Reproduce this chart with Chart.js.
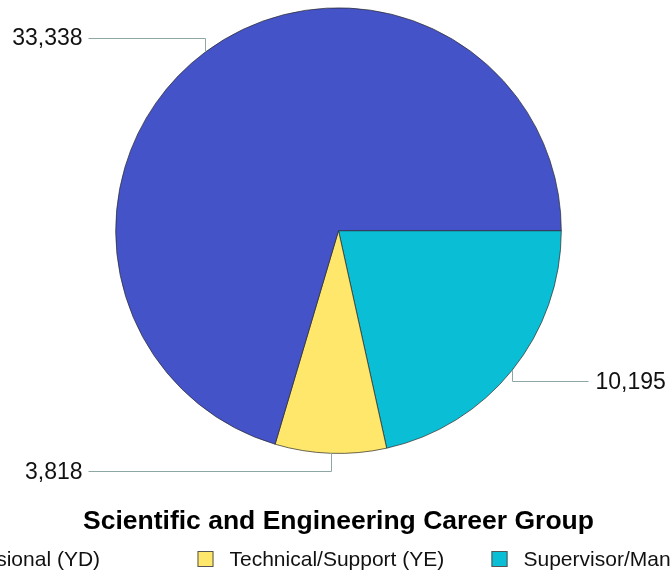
<!DOCTYPE html>
<html>
<head>
<meta charset="utf-8">
<script src="https://cdn.jsdelivr.net/npm/chart.js@4/dist/chart.umd.min.js"></script>
<style>
  html, body { margin: 0; padding: 0; background: #fff; overflow: hidden; }
  #wrap { width: 671px; height: 573px; }
</style>
</head>
<body>
<div id="wrap"><canvas id="career-pie" width="671" height="573"></canvas></div>
<script>
const FONT = "'Liberation Sans', Arial, Helvetica, sans-serif";

const CATEGORIES = ['Professional (YD)', 'Technical/Support (YE)', 'Supervisor/Manager (YF)'];
const COUNTS = [33338, 3818, 10195];
const COLORS = ['#4553c9', '#ffe76b', '#09bed5'];
const TITLE = 'Scientific and Engineering Career Group';

// slices run clockwise from 3 o'clock: Supervisor, Technical, Professional
const order = [2, 1, 0];

// value labels with elbow leader lines
const leaderLabels = {
    id: 'leaderLabels',
    afterDatasetsDraw(chart) {
        const meta = chart.getDatasetMeta(0);
        const c = chart.ctx;
        c.save();
        c.font = `23px ${FONT}`;
        c.textBaseline = 'middle';
        meta.data.forEach((arc, i) => {
            const { x, y, startAngle, endAngle, outerRadius } = arc.getProps(['x', 'y', 'startAngle', 'endAngle', 'outerRadius'], true);
            const mid = (startAngle + endAngle) / 2;
            const px = x + Math.cos(mid) * outerRadius;
            const py = y + Math.sin(mid) * outerRadius;
            const ey = y + Math.sin(mid) * (outerRadius + 18);
            const left = Math.cos(mid) < 0;
            const ex = left ? x - 250 : x + 250;
            c.strokeStyle = '#8ea7a5';
            c.lineWidth = 1;
            c.beginPath();
            c.moveTo(Math.round(px) + 0.5, py);
            c.lineTo(Math.round(px) + 0.5, Math.round(ey) + 0.5);
            c.lineTo(ex, Math.round(ey) + 0.5);
            c.stroke();
            c.fillStyle = '#111';
            c.textAlign = left ? 'right' : 'left';
            const v = chart.data.datasets[0].data[i];
            c.fillText(v.toLocaleString('en-US'), left ? ex - 6 : ex + 7, ey + 1);
        });
        c.restore();
    }
};

// legend row in equal columns, wider than the canvas
const columnLegend = {
    id: 'columnLegend',
    afterDraw(chart) {
        const c = chart.ctx;
        const cx = (chart.chartArea.left + chart.chartArea.right) / 2;
        const colW = 294;
        const rowY = 559;
        c.save();
        c.font = `21px ${FONT}`;
        c.textBaseline = 'middle';
        c.textAlign = 'left';
        CATEGORIES.forEach((name, i) => {
            const bx = cx - 141 + (i - 1) * colW;
            c.fillStyle = COLORS[i];
            c.fillRect(bx, rowY - 8, 16, 16);
            c.strokeStyle = '#555';
            c.lineWidth = 1;
            c.strokeRect(bx + 0.5, rowY - 7.5, 15, 15);
            c.fillStyle = '#111';
            c.fillText(name, bx + 32, rowY + 1);
        });
        c.restore();
    }
};

const ctx = document.getElementById('career-pie').getContext('2d');
new Chart(ctx, {
    type: 'pie',
    data: {
        labels: order.map(i => CATEGORIES[i]),
        datasets: [{
            data: order.map(i => COUNTS[i]),
            backgroundColor: order.map(i => COLORS[i]),
            borderColor: '#2a2a2a',
            borderWidth: 0.7
        }]
    },
    options: {
        responsive: false,
        animation: false,
        rotation: 90,
        layout: { padding: { top: 7.5, left: 6, right: 0, bottom: 35 } },
        plugins: {
            legend: { display: false },
            tooltip: { enabled: false },
            title: {
                display: true,
                text: TITLE,
                position: 'bottom',
                color: '#000',
                font: { family: FONT, size: 26.5, weight: 'bold', lineHeight: 1.2 },
                padding: { top: 52.4, bottom: 0 }
            }
        }
    },
    plugins: [leaderLabels, columnLegend]
});
</script>
</body>
</html>
